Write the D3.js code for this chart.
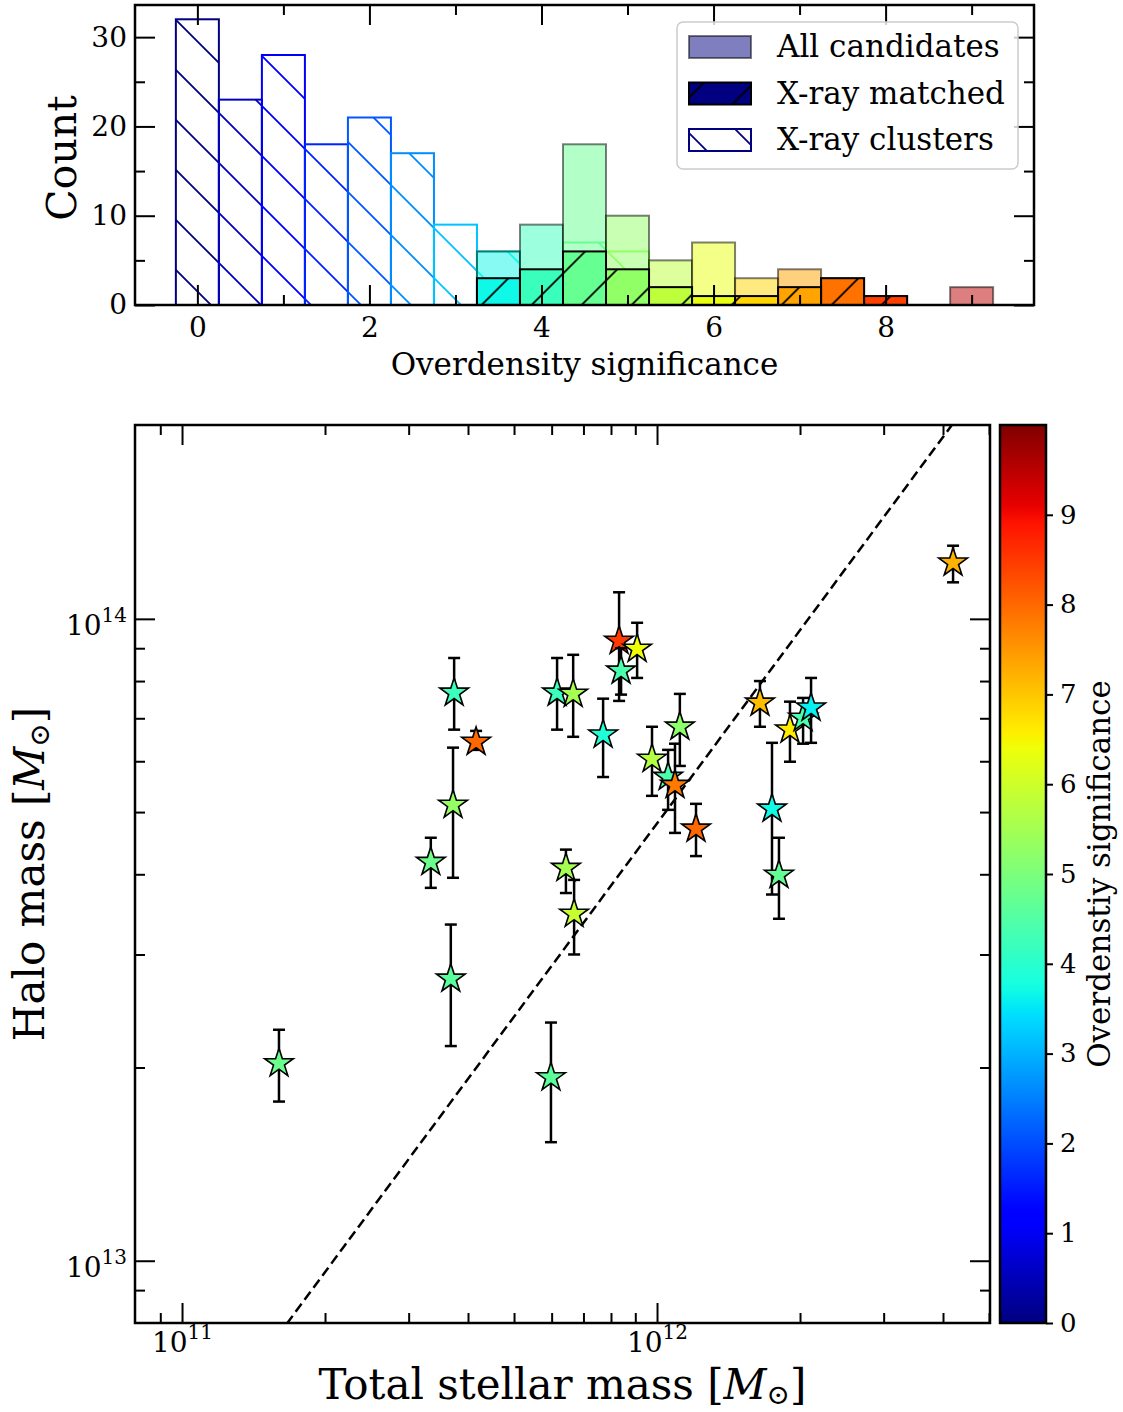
<!DOCTYPE html>
<html>
<head>
<meta charset="utf-8">
<script src="https://cdn.jsdelivr.net/npm/d3@7"></script>
<style>
    body { margin: 0; background: #fff; }
    svg { display: block; }
    text { font-family: 'DejaVu Serif', serif; fill: #000; }
</style>
</head>
<body>
<svg id="fig" width="1123" height="1412"></svg>
<script>
// histogram: bin edges and counts per bin
const binEdges = [-0.25, 0.25, 0.75, 1.25, 1.75, 2.25, 2.75, 3.25, 3.75, 4.25, 4.75, 5.25, 5.75, 6.25, 6.75, 7.25, 7.75, 8.25, 8.75, 9.25]
const allCandidates = [0, 0, 0, 0, 0, 0, 0, 6, 9, 18, 10, 5, 7, 3, 4, 3, 1, 0, 2]
const xrayMatched = [0, 0, 0, 0, 0, 0, 0, 3, 4, 6, 4, 2, 1, 1, 2, 3, 1, 0, 0]
const xrayClusters = [32, 23, 28, 18, 21, 17, 9, 6, 3, 7, 6, 0, 0, 0, 0, 0, 0, 0, 0]
const histXTicks = [0, 2, 4, 6, 8]
const histXMinor = [1, 3, 5, 7, 9]
const histYTicks = [0, 10, 20, 30]
const histYMinor = [5, 15, 25]
const legendLabels = ['All candidates', 'X-ray matched', 'X-ray clusters']

// scatter: one entry per X-ray matched candidate
const stellarMass = [1.60e11, 3.34e11, 3.72e11, 3.74e11, 4.16e11, 3.68e11, 6.16e11, 6.66e11, 6.43e11, 6.69e11, 5.98e11, 7.70e11, 8.32e11, 8.40e11, 9.08e11, 9.76e11, 1.117e12, 1.055e12, 1.091e12, 1.208e12, 1.647e12, 1.746e12, 1.806e12, 1.905e12, 2.03e12, 2.11e12, 4.20e12]
const haloMass = [2.03e13, 4.18e13, 5.13e13, 7.67e13, 6.43e13, 2.75e13, 7.67e13, 7.64e13, 4.09e13, 3.47e13, 1.93e13, 6.60e13, 9.24e13, 8.30e13, 8.98e13, 6.05e13, 6.79e13, 5.67e13, 5.51e13, 4.71e13, 7.40e13, 5.06e13, 3.99e13, 6.72e13, 7.01e13, 7.27e13, 1.223e14]
const haloLow = [1.77e13, 3.81e13, 3.95e13, 6.72e13, 6.25e13, 2.16e13, 6.72e13, 6.55e13, 3.74e13, 3.00e13, 1.53e13, 5.67e13, 7.45e13, 7.62e13, 8.09e13, 5.30e13, 5.90e13, 5.04e13, 4.64e13, 4.27e13, 6.79e13, 3.72e13, 3.41e13, 5.99e13, 6.39e13, 6.41e13, 1.14e14]
const haloHigh = [2.29e13, 4.56e13, 6.30e13, 8.69e13, 6.69e13, 3.34e13, 8.69e13, 8.79e13, 4.37e13, 3.92e13, 2.35e13, 7.51e13, 1.10e14, 9.0e13, 9.86e13, 6.79e13, 7.64e13, 6.25e13, 6.39e13, 5.15e13, 8.00e13, 6.41e13, 4.56e13, 7.43e13, 7.53e13, 8.09e13, 1.30e14]
const significance = [4.8, 4.8, 5.3, 4.2, 8.0, 4.6, 4.2, 5.5, 5.5, 5.9, 4.6, 3.9, 8.5, 4.4, 6.4, 5.7, 5.2, 4.4, 7.8, 8.0, 7.1, 3.7, 4.7, 6.6, 4.4, 3.6, 7.2]
const haloToStellar = 48
const stellarMajor = [1e11, 1e12]
const stellarMinor = [9e10, 2e11, 3e11, 4e11, 5e11, 6e11, 7e11, 8e11, 9e11, 2e12, 3e12, 4e12, 5e12]
const haloMajor = [1e13, 1e14]
const haloMinor = [9e12, 2e13, 3e13, 4e13, 5e13, 6e13, 7e13, 8e13, 9e13]
const cbarTicks = [0, 1, 2, 3, 4, 5, 6, 7, 8, 9]

// jet colormap (matplotlib segment data)
const jetR = d3.scaleLinear().domain([0, 0.35, 0.66, 0.89, 1]).range([0, 0, 1, 1, 0.5]).clamp(true)
const jetG = d3.scaleLinear().domain([0, 0.125, 0.375, 0.64, 0.91, 1]).range([0, 0, 1, 1, 0, 0]).clamp(true)
const jetB = d3.scaleLinear().domain([0, 0.11, 0.34, 0.65, 1]).range([0.5, 1, 1, 0, 0]).clamp(true)
const jet = (t) => d3.rgb(jetR(t) * 255, jetG(t) * 255, jetB(t) * 255).formatHex()

const svg = d3.select('#fig')
svg.append('rect').attr('width', 1123).attr('height', 1412).attr('fill', '#fff')
const defs = svg.append('defs')

// hatch patterns, in page coordinates so the lines run on across bars
const patterns = {}
const hatch = (color, dir) => {
    const id = `h${dir}${color.replace('#', '')}`
    if (patterns[id]) return `url(#${id})`
    patterns[id] = true
    const p = defs.append('pattern').attr('id', id).attr('patternUnits', 'userSpaceOnUse')
        .attr('width', 50).attr('height', 50)
        .attr('x', dir === 'b' ? 6 : 36.6).attr('y', 0)
    const d = dir === 'b'
        ? 'M0,0L50,50M-5,45L5,55M45,-5L55,5'
        : 'M0,50L50,0M-5,5L5,-5M45,55L55,45'
    p.append('path').attr('d', d).attr('stroke', color).attr('stroke-width', 1.8).attr('fill', 'none')
    return `url(#${id})`
}

// ---------- histogram ----------
const hx = d3.scaleLinear().domain([-0.725, 9.725]).range([135, 1034])
const hy = d3.scaleLinear().domain([0, 33.6]).range([305, 5])
const histColor = (i) => jet((binEdges[i] + binEdges[i + 1]) / 2 / 9.5)
const bins = d3.range(allCandidates.length)
const hist = svg.append('g')

const binRect = (sel, counts) => sel
    .attr('x', (i) => hx(binEdges[i]))
    .attr('width', (i) => hx(binEdges[i + 1]) - hx(binEdges[i]))
    .attr('y', (i) => hy(counts[i]))
    .attr('height', (i) => hy(0) - hy(counts[i]))

// X-ray clusters: open bars, backslash hatch
binRect(hist.selectAll('.cl').data(bins.filter((i) => xrayClusters[i] > 0)).enter().append('rect'), xrayClusters)
    .attr('fill', (i) => hatch(histColor(i), 'b'))
    .attr('stroke', (i) => histColor(i)).attr('stroke-width', 2)

// all candidates: translucent
binRect(hist.selectAll('.all').data(bins.filter((i) => allCandidates[i] > 0)).enter().append('rect'), allCandidates)
    .attr('fill', (i) => histColor(i)).attr('fill-opacity', 0.5)
    .attr('stroke', 'rgba(0,0,0,0.5)').attr('stroke-width', 2)

// X-ray matched: solid, slash hatch
const matchedBins = bins.filter((i) => xrayMatched[i] > 0)
binRect(hist.selectAll('.mf').data(matchedBins).enter().append('rect'), xrayMatched).attr('fill', (i) => histColor(i))
binRect(hist.selectAll('.mh').data(matchedBins).enter().append('rect'), xrayMatched).attr('fill', hatch('#000000', 'f'))
binRect(hist.selectAll('.mo').data(matchedBins).enter().append('rect'), xrayMatched)
    .attr('fill', 'none').attr('stroke', '#000').attr('stroke-width', 2)

// ticks all round, pointing in
const styleAxis = (g, size) => {
    g.select('.domain').remove()
    g.selectAll('line').attr('stroke-width', 2)
    g.selectAll('text').style('font-size', `${size}px`).attr('fill', '#000')
}
const hAxes = svg.append('g')
hAxes.append('g').attr('transform', 'translate(0,305)')
    .call(d3.axisBottom(hx).tickValues(histXTicks).tickSize(-20).tickPadding(12).tickFormat(d3.format('d')))
    .call((g) => styleAxis(g, 28))
hAxes.append('g').attr('transform', 'translate(0,305)')
    .call(d3.axisBottom(hx).tickValues(histXMinor).tickSize(-10).tickFormat(''))
    .call((g) => styleAxis(g, 28))
hAxes.append('g').attr('transform', 'translate(0,5)')
    .call(d3.axisTop(hx).tickValues(histXTicks).tickSize(-20).tickFormat(''))
    .call((g) => styleAxis(g, 28))
hAxes.append('g').attr('transform', 'translate(0,5)')
    .call(d3.axisTop(hx).tickValues(histXMinor).tickSize(-10).tickFormat(''))
    .call((g) => styleAxis(g, 28))
hAxes.append('g').attr('transform', 'translate(135,0)')
    .call(d3.axisLeft(hy).tickValues(histYTicks).tickSize(-20).tickPadding(8).tickFormat(d3.format('d')))
    .call((g) => styleAxis(g, 28))
hAxes.append('g').attr('transform', 'translate(135,0)')
    .call(d3.axisLeft(hy).tickValues(histYMinor).tickSize(-10).tickFormat(''))
    .call((g) => styleAxis(g, 28))
hAxes.append('g').attr('transform', 'translate(1034,0)')
    .call(d3.axisRight(hy).tickValues(histYTicks).tickSize(-20).tickFormat(''))
    .call((g) => styleAxis(g, 28))
hAxes.append('g').attr('transform', 'translate(1034,0)')
    .call(d3.axisRight(hy).tickValues(histYMinor).tickSize(-10).tickFormat(''))
    .call((g) => styleAxis(g, 28))
svg.append('rect').attr('x', 135).attr('y', 5).attr('width', 899).attr('height', 300)
    .attr('fill', 'none').attr('stroke', '#000').attr('stroke-width', 2.5)

svg.append('text').attr('x', 584.5).attr('y', 375).attr('text-anchor', 'middle')
    .style('font-size', '31px').text('Overdensity significance')
svg.append('text').attr('transform', 'translate(76,158) rotate(-90)').attr('text-anchor', 'middle')
    .style('font-size', '41px').text('Count')

// legend
const legend = svg.append('g')
legend.append('rect').attr('x', 677).attr('y', 22).attr('width', 341).attr('height', 147).attr('rx', 6)
    .attr('fill', 'rgba(255,255,255,0.8)').attr('stroke', '#cccccc').attr('stroke-width', 1.5)
const navy = jet(0)
legendLabels.forEach((label, i) => {
    const cy = 47 + i * 46.5
    const r = () => legend.append('rect').attr('x', 689).attr('y', cy - 11).attr('width', 62).attr('height', 22)
    if (i === 0) {
        r().attr('fill', navy).attr('fill-opacity', 0.5).attr('stroke', 'rgba(0,0,0,0.5)').attr('stroke-width', 2)
    } else if (i === 1) {
        r().attr('fill', navy)
        r().attr('fill', hatch('#000000', 'f'))
        r().attr('fill', 'none').attr('stroke', '#000').attr('stroke-width', 2)
    } else {
        r().attr('fill', hatch(navy, 'b')).attr('stroke', navy).attr('stroke-width', 2)
    }
    legend.append('text').attr('x', 777).attr('y', cy + 10).style('font-size', '31px').text(label)
})

// ---------- scatter ----------
const sx = d3.scaleLog().domain([10 ** 10.901, 10 ** 12.701]).range([135, 990])
const sy = d3.scaleLog().domain([10 ** 12.903, 10 ** 14.302]).range([1323, 425])

defs.append('clipPath').attr('id', 'clipS').append('rect')
    .attr('x', 135).attr('y', 425).attr('width', 855).attr('height', 898)
const plot = svg.append('g').attr('clip-path', 'url(#clipS)')

const lineX = sx.domain()
plot.append('path')
    .attr('d', d3.line().x((d) => sx(d)).y((d) => sy(d * haloToStellar))(lineX))
    .attr('fill', 'none').attr('stroke', '#000').attr('stroke-width', 2.5).attr('stroke-dasharray', '10,5')

const star = d3.symbol().type(d3.symbolStar).size(255)
stellarMass.forEach((m, i) => {
    const x = sx(m)
    const g = plot.append('g')
    g.append('line').attr('x1', x).attr('x2', x).attr('y1', sy(haloLow[i])).attr('y2', sy(haloHigh[i]))
        .attr('stroke', '#000').attr('stroke-width', 2.5)
    ;[haloLow[i], haloHigh[i]].forEach((v) => {
        g.append('line').attr('x1', x - 6).attr('x2', x + 6).attr('y1', sy(v)).attr('y2', sy(v))
            .attr('stroke', '#000').attr('stroke-width', 2.5)
    })
    g.append('path').attr('d', star).attr('transform', `translate(${x},${sy(haloMass[i])})`)
        .attr('fill', jet(significance[i] / 10)).attr('stroke', '#000').attr('stroke-width', 1.6)
        .attr('stroke-linejoin', 'miter')
})

const powLabel = (sel) => sel.each(function (d) {
    const t = d3.select(this)
    t.text('')
    t.append('tspan').text('10')
    t.append('tspan').attr('dy', -13).style('font-size', '20px').text(Math.round(Math.log10(d)))
})
const sAxes = svg.append('g')
sAxes.append('g').attr('transform', 'translate(0,1323)')
    .call(d3.axisBottom(sx).tickValues(stellarMajor).tickSize(-20).tickPadding(9))
    .call((g) => styleAxis(g, 28))
    .call((g) => g.selectAll('text').call(powLabel))
sAxes.append('g').attr('transform', 'translate(0,1323)')
    .call(d3.axisBottom(sx).tickValues(stellarMinor).tickSize(-10).tickFormat(''))
    .call((g) => styleAxis(g, 28))
sAxes.append('g').attr('transform', 'translate(0,425)')
    .call(d3.axisTop(sx).tickValues(stellarMajor).tickSize(-20).tickFormat(''))
    .call((g) => styleAxis(g, 28))
sAxes.append('g').attr('transform', 'translate(0,425)')
    .call(d3.axisTop(sx).tickValues(stellarMinor).tickSize(-10).tickFormat(''))
    .call((g) => styleAxis(g, 28))
sAxes.append('g').attr('transform', 'translate(135,0)')
    .call(d3.axisLeft(sy).tickValues(haloMajor).tickSize(-20).tickPadding(8))
    .call((g) => styleAxis(g, 28))
    .call((g) => g.selectAll('text').attr('dy', '0.55em').call(powLabel))
sAxes.append('g').attr('transform', 'translate(135,0)')
    .call(d3.axisLeft(sy).tickValues(haloMinor).tickSize(-10).tickFormat(''))
    .call((g) => styleAxis(g, 28))
sAxes.append('g').attr('transform', 'translate(990,0)')
    .call(d3.axisRight(sy).tickValues(haloMajor).tickSize(-20).tickFormat(''))
    .call((g) => styleAxis(g, 28))
sAxes.append('g').attr('transform', 'translate(990,0)')
    .call(d3.axisRight(sy).tickValues(haloMinor).tickSize(-10).tickFormat(''))
    .call((g) => styleAxis(g, 28))
svg.append('rect').attr('x', 135).attr('y', 425).attr('width', 855).attr('height', 898)
    .attr('fill', 'none').attr('stroke', '#000').attr('stroke-width', 2.5)

const massLabel = (t, pre) => {
    t.append('tspan').text(pre + '[')
    t.append('tspan').style('font-style', 'italic').text('M')
    t.append('tspan').attr('dy', 5).style('font-size', '28px').text('⊙')
    t.append('tspan').attr('dy', -5).text(']')
}
svg.append('text').attr('x', 562.5).attr('y', 1399).attr('text-anchor', 'middle')
    .style('font-size', '42px').call((t) => massLabel(t, 'Total stellar mass '))
svg.append('text').attr('transform', 'translate(44,874) rotate(-90)').attr('text-anchor', 'middle')
    .style('font-size', '42px').call((t) => massLabel(t, 'Halo mass '))

// ---------- colorbar ----------
const cbY = d3.scaleLinear().domain([0, 10]).range([1323, 425])
const grad = defs.append('linearGradient').attr('id', 'jetGrad')
    .attr('x1', 0).attr('y1', 1).attr('x2', 0).attr('y2', 0)
d3.range(0, 1.0001, 0.01).forEach((t) => {
    grad.append('stop').attr('offset', t).attr('stop-color', jet(t))
})
svg.append('rect').attr('x', 1000).attr('y', 425).attr('width', 46).attr('height', 898)
    .attr('fill', 'url(#jetGrad)').attr('stroke', '#000').attr('stroke-width', 2.5)
svg.append('g').attr('transform', 'translate(1046,0)')
    .call(d3.axisRight(cbY).tickValues(cbarTicks).tickSize(7).tickPadding(7).tickFormat(d3.format('d')))
    .call((g) => styleAxis(g, 26))
svg.append('text').attr('transform', 'translate(1110,874) rotate(-90)').attr('text-anchor', 'middle')
    .style('font-size', '31px').text('Overdenstiy significance')
</script>
</body>
</html>
